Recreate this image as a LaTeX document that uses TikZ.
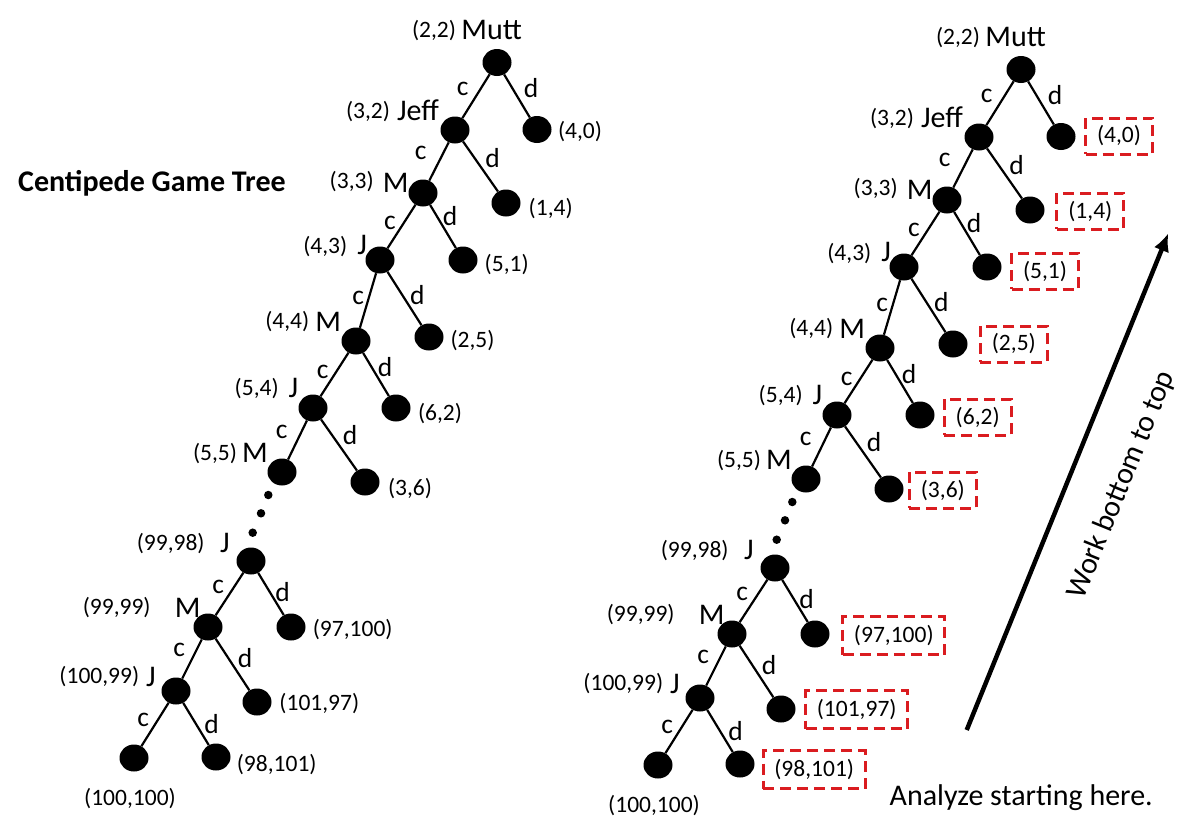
\documentclass[tikz,border=0pt]{standalone}
\usepackage{fontspec}
\setmainfont{Carlito}
\usetikzlibrary{shapes.geometric,arrows.meta}
\definecolor{boxred}{RGB}{218,28,32}
\tikzset{
 dot/.style={ellipse,fill=black,minimum width=29pt,minimum height=27pt,inner sep=0pt},
 tinydot/.style={circle,fill=black,minimum size=8.5pt,inner sep=0pt},
 edge/.style={line width=2.2pt},
 pay/.style={inner sep=0pt,font=\fontsize{23.5}{27}\selectfont},
 who/.style={inner sep=0pt,font=\fontsize{30}{34}\selectfont},
 mv/.style={inner sep=0pt,font=\fontsize{27.5}{31}\selectfont},
 payboxS/.style={pay,draw=boxred,line width=3pt,dash pattern=on 11pt off 6pt,minimum width=67pt,minimum height=36pt},
 payboxL/.style={payboxS,minimum width=102pt,minimum height=38pt},
 bigtext/.style={inner sep=0pt,font=\fontsize{30}{34}\selectfont},
}
\newcommand\centtree{%
 \node[dot] (n1) at (497,62.5) {};
 \node[dot] (l1) at (537,129.5) {};
 \node[dot] (n2) at (455,130) {};
 \node[dot] (l2) at (506,203) {};
 \node[dot] (n3) at (423,193) {};
 \node[dot] (l3) at (463,260) {};
 \node[dot] (n4) at (380,260) {};
 \node[dot] (l4) at (429,337) {};
 \node[dot] (n5) at (356,341) {};
 \node[dot] (l5) at (396,408) {};
 \node[dot] (n6) at (313,408) {};
 \node[dot] (l6) at (365,482) {};
 \node[dot] (n7) at (282,472) {};
 \node[tinydot] (t1) at (268.3,495) {};
 \node[tinydot] (t2) at (261,513.3) {};
 \node[tinydot] (t3) at (252.7,532.7) {};
 \node[dot] (n8) at (251,561) {};
 \node[dot] (l8) at (291,627) {};
 \node[dot] (n9) at (208,627) {};
 \node[dot] (l9) at (257,702) {};
 \node[dot] (n10) at (176,691) {};
 \node[dot] (lc) at (134,758) {};
 \node[dot] (ld) at (216,757) {};
 \draw[edge] (n1) -- (n2) (n1) -- (l1)
             (n2) -- (n3) (n2) -- (l2)
             (n3) -- (n4) (n3) -- (l3)
             (n4) -- (n5) (n4) -- (l4)
             (n5) -- (n6) (n5) -- (l5)
             (n6) -- (n7) (n6) -- (l6)
             (n8) -- (n9) (n8) -- (l8)
             (n9) -- (n10) (n9) -- (l9)
             (n10) -- (lc) (n10) -- (ld);
 % players
 \node[pay] (p1) at (434,31) {(2,2)};
 \node[who] (w1) at (491.7,30) {Mutt};
 \node[pay] (p2) at (368,112) {(3,2)};
 \node[who] (w2) at (418,110.5) {Jeff};
 \node[pay] (p3) at (351.7,181.7) {(3,3)};
 \node[who] (w3) at (395.7,182.7) {M};
 \node[pay] (p4) at (325.3,246.3) {(4,3)};
 \node[who] (w4) at (362.2,244.8) {J};
 \node[pay] (p5) at (287.3,321.7) {(4,4)};
 \node[who] (w5) at (328.3,321.7) {M};
 \node[pay] (p6) at (256.7,388.3) {(5,4)};
 \node[who] (w6) at (293.3,388.3) {J};
 \node[pay] (p7) at (215,453.3) {(5,5)};
 \node[who] (w7) at (255,453.3) {M};
 \node[pay] (p8) at (170.7,544) {(99,98)};
 \node[who] (w8) at (225,543.3) {J};
 \node[pay] (p9) at (116.7,607.3) {(99,99)};
 \node[who] (w9) at (187.7,608.3) {M};
 \node[pay] (p10) at (99.3,676.7) {(100,99)};
 \node[who] (w10) at (151,676.7) {J};
 % moves
 \node[mv] (c1) at (462.7,89) {c};
 \node[mv] (d1) at (531,88) {d};
 \node[mv] (c2) at (420.7,153.3) {c};
 \node[mv] (d2) at (492.7,158.3) {d};
 \node[mv] (c3) at (390,223) {c};
 \node[mv] (d3) at (450,216) {d};
 \node[mv] (c4) at (358.3,298.3) {c};
 \node[mv] (d4) at (417.3,295) {d};
 \node[mv] (c5) at (322.7,371.7) {c};
 \node[mv] (d5) at (385,366.7) {d};
 \node[mv] (c6) at (281.7,431.7) {c};
 \node[mv] (d6) at (350,435) {d};
 \node[mv] (c8) at (218.3,586.7) {c};
 \node[mv] (d8) at (282.7,591.7) {d};
 \node[mv] (c9) at (179.3,650) {c};
 \node[mv] (d9) at (245,658.3) {d};
 \node[mv] (c10) at (143.3,720) {c};
 \node[mv] (d10) at (211.7,724) {d};
 \node[pay] (q0) at (130,798.3) {(100,100)};
}
\begin{document}
\begin{tikzpicture}[x=1pt,y=-1pt]
\path[use as bounding box] (0,0) rectangle (1200,833);
\node[bigtext,font=\fontsize{30}{34}\selectfont\bfseries] (title) at (152,183) {Centipede Game Tree};
\begin{scope}[name prefix=L-]
 \centtree
 \node[pay] (q1) at (580,132) {(4,0)};
 \node[pay] (q2) at (550.7,208.3) {(1,4)};
 \node[pay] (q3) at (506.7,265) {(5,1)};
 \node[pay] (q4) at (472.5,341) {(2,5)};
 \node[pay] (q5) at (440,414) {(6,2)};
 \node[pay] (q6) at (410,488.3) {(3,6)};
 \node[pay] (q8) at (352.7,630) {(97,100)};
 \node[pay] (q9) at (319.3,704) {(101,97)};
 \node[pay] (q10) at (276.7,765) {(98,101)};
\end{scope}
\begin{scope}[shift={(524,7)},name prefix=R-]
 \centtree
\end{scope}
\node[payboxS] (b1) at (1119,136) {(4,0)};
\node[payboxS] (b2) at (1090.3,211.2) {(1,4)};
\node[payboxS] (b3) at (1045,271.2) {(5,1)};
\node[payboxS] (b4) at (1013.8,344) {(2,5)};
\node[payboxS] (b5) at (977.7,417.3) {(6,2)};
\node[payboxS] (b6) at (942.8,490.3) {(3,6)};
\node[payboxL] (b8) at (893.8,635.8) {(97,100)};
\node[payboxL] (b9) at (856.7,709.7) {(101,97)};
\node[payboxL] (b10) at (814.2,769.7) {(98,101)};
\coordinate (a0) at (966.7,730);
\coordinate (a1) at (1168.3,233.3);
\draw[line width=4.5pt,-{Latex[length=18pt,width=16pt]}] (a0) -- (a1);
\node[bigtext,rotate=67.9] (work) at (1121.7,485) {Work bottom to top};
\node[bigtext,anchor=base] (analyze) at (1021.2,805) {Analyze starting here.};
\end{tikzpicture}
\end{document}
